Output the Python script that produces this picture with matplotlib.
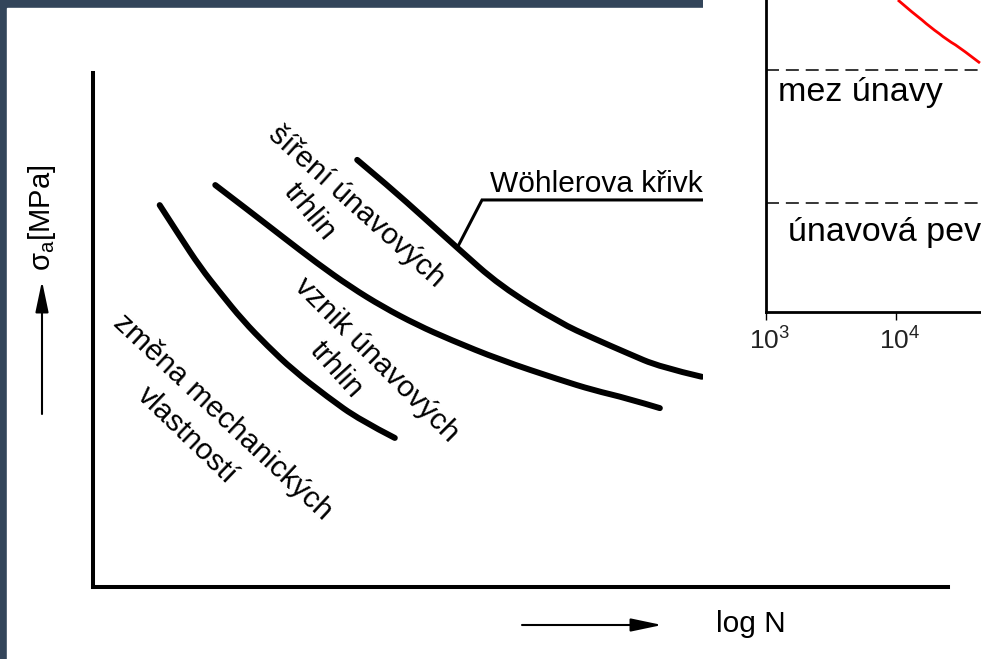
import numpy as np
import matplotlib
matplotlib.use("Agg")
import matplotlib.pyplot as plt
from matplotlib.patches import Rectangle, PathPatch
from matplotlib.path import Path
from matplotlib.transforms import ScaledTranslation

plt.rcParams['font.family'] = ['Liberation Sans', 'DejaVu Sans']
plt.rcParams['mathtext.fontset'] = 'custom'
plt.rcParams['mathtext.rm'] = 'Liberation Sans'
plt.rcParams['mathtext.it'] = 'Liberation Sans:italic'
plt.rcParams['mathtext.default'] = 'regular'

# schematic stages of fatigue (x = log N, y = sigma_a, arbitrary units 0..100)
wohler_x = [30.9, 34.7, 38.6, 42.6, 47.6, 54.6, 58.5, 62.5, 66.3, 71.2]
wohler_y = [83.1, 77.8, 72.0, 66.0, 58.6, 51.4, 48.4, 45.5, 42.8, 40.9]
vznik_x = [14.3, 18.4, 22.2, 26.2, 30.1, 33.9, 37.9, 41.8, 47.6, 54.6, 58.5, 62.5, 66.3]
vznik_y = [78.2, 73.0, 68.1, 63.0, 58.4, 54.5, 51.0, 48.1, 44.2, 40.3, 38.3, 36.7, 34.8]
zmena_x = [7.8, 10.2, 12.5, 14.9, 17.5, 20.4, 23.4, 27.4, 31.2, 35.3]
zmena_y = [74.3, 68.1, 62.3, 57.2, 51.9, 46.9, 42.2, 37.0, 32.5, 29.0]

# leader line to the Woehler label
leader_x = [42.6, 45.5, 85.0]
leader_y = [66.0, 75.3, 75.3]

# inset: real S-N curve piece
inset_N = [10350, 13520, 18280, 24660, 32730, 44260]
inset_sigma = [100, 95.8, 91.3, 87.2, 84.0, 79.8]
fatigue_limit = 77.6
fatigue_strength = 34.9
inset_ticks = [1e3, 1e4]
inset_ticklabels = ['$10^{3}$', '$10^{4}$']


def smooth_path(xs, ys):
    # quadratic bezier chain: points act as control points, knots at midpoints
    pts = list(zip(xs, ys))
    verts, codes = [pts[0]], [Path.MOVETO]
    for i in range(1, len(pts) - 1):
        end = pts[i + 1] if i == len(pts) - 2 else (
            (pts[i][0] + pts[i + 1][0]) / 2, (pts[i][1] + pts[i + 1][1]) / 2)
        verts += [pts[i], end]
        codes += [Path.CURVE3, Path.CURVE3]
    return Path(verts, codes)


W, H = 981, 659
fig = plt.figure(figsize=(W / 100, H / 100), dpi=100)
fig.patch.set_facecolor('#33455a')

# page: dark slide border + white sheet, arrows and axis captions in pixels
page = fig.add_axes([0, 0, 1, 1], zorder=0)
page.set_xlim(0, W); page.set_ylim(H, 0); page.axis('off')
page.add_patch(Rectangle((0, 0), W, H, color='#33455a', zorder=0))
page.add_patch(Rectangle((7, 8), W - 7, H - 8, color='white', zorder=1))
arrow = dict(arrowstyle='-|>,head_length=0.95,head_width=0.2',
             lw=1.5, color='black', mutation_scale=20, shrinkA=0, shrinkB=0)
page.annotate('', xy=(42, 281), xytext=(42, 414), arrowprops=arrow)
page.annotate('', xy=(662, 625), xytext=(522, 625), arrowprops=arrow)
page.text(42, 218, r'$\sigma_a[MPa]$', rotation=90, ha='center', va='center',
          fontsize=21, zorder=3)
page.text(716, 632, 'log N', ha='left', va='baseline', fontsize=21.5, zorder=3)

# main schematic diagram
ax = fig.add_axes([93 / W, (H - 587) / H, 855 / W, 514 / H], zorder=1)
ax.patch.set_alpha(0)
ax.set_xlim(0, 100); ax.set_ylim(0, 100)
for s in ['top', 'right']:
    ax.spines[s].set_visible(False)
for s in ['left', 'bottom']:
    ax.spines[s].set_linewidth(2.9)
    ax.spines[s].set_capstyle('projecting')
ax.set_xticks([]); ax.set_yticks([])

for xs, ys in [(wohler_x, wohler_y), (vznik_x, vznik_y), (zmena_x, zmena_y)]:
    ax.add_patch(PathPatch(smooth_path(xs, ys), fill=False, ec='black', lw=4.3,
                           capstyle='round', joinstyle='round', clip_on=False))
ax.plot(leader_x, leader_y, color='black', lw=2.2, solid_joinstyle='miter', clip_on=False)

fs = 21.5
ax.text(46.4, 76.8, 'Wöhlerova křivka', fontsize=fs, ha='left', va='baseline')
labels = [
    ('šíření únavových', 30.8, 74.1, -42),
    ('trhlin', 25.3, 73.0, -50),
    ('vznik únavových', 33.2, 44.2, -45),
    ('trhlin', 28.5, 42.2, -48),
    ('změna mechanických', 15.2, 33.1, -43),
    ('vlastností', 11.0, 29.6, -44),
]
for txt, x, y, rot in labels:
    ax.text(x, y, txt, fontsize=fs, rotation=rot, rotation_mode='anchor',
            ha='center', va='center')

# inset picture pasted over the top right corner
bg = fig.add_axes([703 / W, (H - 385) / H, (W - 703) / W, 385 / H], zorder=3)
bg.set_facecolor('white')
bg.set_xticks([]); bg.set_yticks([])
for s in bg.spines.values():
    s.set_visible(False)

ins = fig.add_axes([766 / W, (H - 312) / H, (W - 766) / W, 312 / H], zorder=4)
ins.patch.set_alpha(0)
ins.set_xscale('log')
ins.set_xlim(1e3, 10 ** 4.654)
ins.set_ylim(0, 100)
ins.add_patch(PathPatch(smooth_path(inset_N, inset_sigma), fill=False,
                        ec='#ff0000', lw=2.0))
ins.axhline(fatigue_limit, color='black', lw=1.1, dashes=(8.5, 4.5))
ins.axhline(fatigue_strength, color='black', lw=1.1, dashes=(8.5, 4.5))
for s in ['top', 'right']:
    ins.spines[s].set_visible(False)
for s in ['left', 'bottom']:
    ins.spines[s].set_linewidth(2.0)
ins.set_yticks([])
ins.set_xticks(inset_ticks)
ins.set_xticklabels(inset_ticklabels)
ins.xaxis.set_minor_locator(matplotlib.ticker.NullLocator())
ins.tick_params(axis='x', direction='out', length=6, width=1.0, pad=5,
                labelsize=19, labelcolor='#222222')
for lab in ins.get_xticklabels():
    lab.set_transform(lab.get_transform() + ScaledTranslation(4 / 100, 0, fig.dpi_scale_trans))
ins.text(12 / 215, fatigue_limit - 10, 'mez únavy', fontsize=24.5,
         transform=ins.get_yaxis_transform(), ha='left', va='baseline')
ins.text(22 / 215, fatigue_strength - 12, 'únavová pevnost', fontsize=24.5,
         transform=ins.get_yaxis_transform(), ha='left', va='baseline', clip_on=True)

fig.savefig('out.png', dpi=100, facecolor=fig.get_facecolor())
